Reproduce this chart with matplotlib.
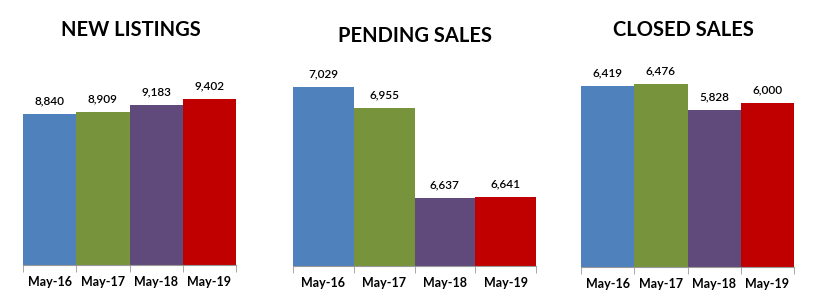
import matplotlib.pyplot as plt

# data
months = ["May-16", "May-17", "May-18", "May-19"]
new_listings = [8840, 8909, 9183, 9402]
pending_sales = [7029, 6955, 6637, 6641]
closed_sales = [6419, 6476, 5828, 6000]
titles = ["NEW LISTINGS", "PENDING SALES", "CLOSED SALES"]

COLORS = ["#4F81BD", "#77933C", "#604A7B", "#C00000"]
W, H = 826, 300

plt.rcParams['font.family'] = ['Lato', 'DejaVu Sans']

fig = plt.figure(figsize=(W / 100, H / 100), dpi=100)

# panel layout in pixels: left, right, baseline (from top), top (from top), ylim, title pos
panels = [
    (new_listings, 23, 236, 265, 50, (3184, 11236), (131, 30)),
    (pending_sales, 293, 536, 265.7, 50, (6398, 7160), (415, 36)),
    (closed_sales, 581, 794, 266.7, 50, (1921, 7325), (683, 30)),
]

for (vals, x0, x1, yb, yt, ylim, tpos), title in zip(panels, titles):
    ax = fig.add_axes([x0 / W, (H - yb) / H, (x1 - x0) / W, (yb - yt) / H])
    ax.bar(range(len(vals)), vals, width=1.0, color=COLORS, bottom=0)
    ax.set_xlim(-0.5, len(vals) - 0.5)
    ax.set_ylim(*ylim)
    for s in ["top", "right", "left"]:
        ax.spines[s].set_visible(False)
    ax.spines["bottom"].set_color("#999999")
    ax.set_yticks([])
    ax.set_xticks(range(len(vals)))
    ax.set_xticklabels(months, fontsize=9, fontweight="bold")
    ax.tick_params(axis="x", which="major", length=0, pad=8)
    ax.set_xticks([i - 0.5 for i in range(len(vals) + 1)], minor=True)
    ax.tick_params(axis="x", which="minor", length=5, color="#999999")
    for i, v in enumerate(vals):
        ax.annotate(f"{v:,}", (i, v), xytext=(0, 7), textcoords="offset points",
                    ha="center", va="baseline", fontsize=8.5, fontweight="semibold")
    fig.text(tpos[0] / W, 1 - tpos[1] / H, title, ha="center", va="center",
             fontsize=14.5, fontweight="bold")

plt.savefig("out.png", dpi=100)
